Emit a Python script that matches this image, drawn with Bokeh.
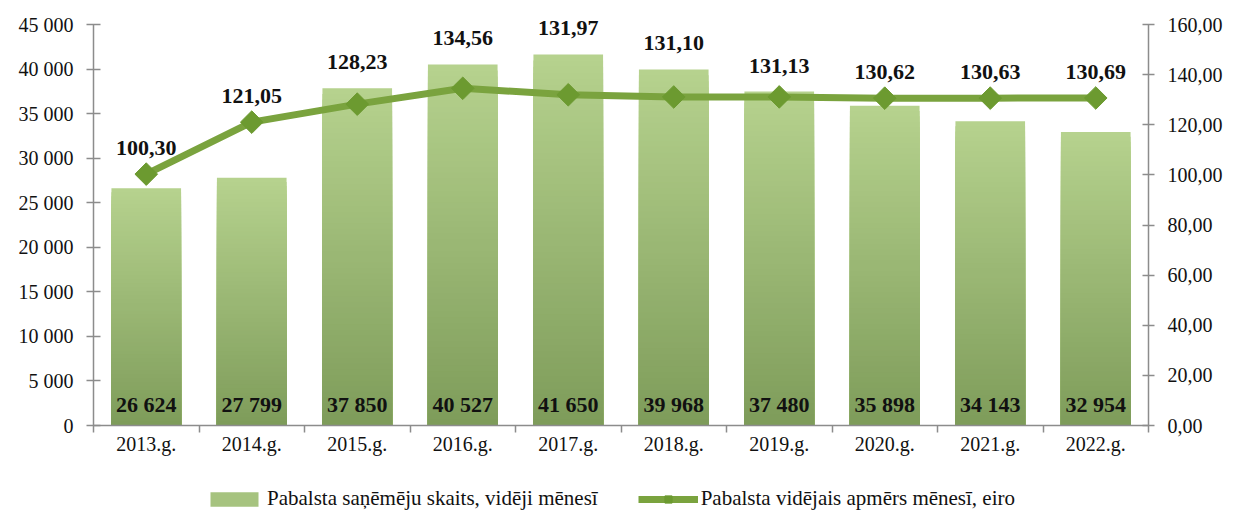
from bokeh.plotting import figure
from bokeh.layouts import column
from bokeh.models import (LinearAxis, Range1d, FixedTicker, Legend, LegendItem,
                          ColumnDataSource, CustomJSTickFormatter)
from bokeh.core.properties import value
from bokeh.embed import file_html
from bokeh.resources import INLINE

# ---------------- data ----------------
years = ["2013.g.", "2014.g.", "2015.g.", "2016.g.", "2017.g.",
         "2018.g.", "2019.g.", "2020.g.", "2021.g.", "2022.g."]
recipients = [26624, 27799, 37850, 40527, 41650, 39968, 37480, 35898, 34143, 32954]
avg_amount = [100.30, 121.05, 128.23, 134.56, 131.97, 131.10, 131.13, 130.62, 130.63, 130.69]
left_ticks = [0, 5000, 10000, 15000, 20000, 25000, 30000, 35000, 40000, 45000]
left_tick_labels = ["0", "5 000", "10 000", "15 000", "20 000", "25 000",
                    "30 000", "35 000", "40 000", "45 000"]
right_ticks = [0, 20, 40, 60, 80, 100, 120, 140, 160]
right_tick_labels = ["0,00", "20,00", "40,00", "60,00", "80,00", "100,00",
                     "120,00", "140,00", "160,00"]
legend_labels = ["Pabalsta saņēmēju skaits, vidēji mēnesī",
                 "Pabalsta vidējais apmērs mēnesī, eiro"]

LEFT_MAX = 45000
RIGHT_MAX = 160
HEADROOM = 1.05  # extra room above the axes so top labels are not clipped

FONT = "Liberation Serif"
AXIS_COLOR = "#8c8c8c"
TEXT_COLOR = "#111111"
BAR_BOTTOM = (126, 156, 90)
BAR_TOP = (182, 210, 142)
BAR_MID = "#a6c37f"
LINE_COLOR = "#7aa33e"
MARKER_COLOR = "#6c9a30"

n = len(years)
xc = [i + 0.5 for i in range(n)]

# ------------- gradient bars: overlapping layers, tallest (lightest) first -------------
N = 60
bx, bt, bc = [], [], []
for k in range(N, 0, -1):
    f = (k - 0.5) / N
    col = tuple(int(round(BAR_BOTTOM[j] + (BAR_TOP[j] - BAR_BOTTOM[j]) * f)) for j in range(3))
    for i, v in enumerate(recipients):
        bx.append(xc[i])
        bt.append(v * k / N)
        bc.append("#%02x%02x%02x" % col)
bar_src = ColumnDataSource(dict(x=bx, top=bt, color=bc))

p = figure(width=1236, height=478, x_range=Range1d(0, n),
           y_range=Range1d(0, LEFT_MAX * HEADROOM),
           output_backend="svg", toolbar_location=None,
           min_border_left=93, min_border_right=88, min_border_top=4, min_border_bottom=53)
p.extra_y_ranges = {"right": Range1d(0, RIGHT_MAX * HEADROOM)}
p.outline_line_color = None
p.xgrid.visible = False
p.ygrid.visible = False
p.background_fill_color = "white"
p.border_fill_color = "white"

bars = p.vbar(x="x", bottom=0, top="top", width=0.66, fill_color="color",
              line_color=None, source=bar_src)

line_src = ColumnDataSource(dict(x=xc, y=avg_amount))
ln = p.line("x", "y", source=line_src, y_range_name="right", line_width=7,
            line_color=LINE_COLOR)
mk = p.scatter("x", "y", source=line_src, y_range_name="right", marker="square",
               angle=0.785398, size=16, fill_color=MARKER_COLOR, line_color=MARKER_COLOR)

# bar value labels (bottom of bars)
rec_labels = [f"{v:,}".replace(",", " ") for v in recipients]
p.text(x=xc, y=[0] * n, text=rec_labels, y_offset=-21, text_align="center",
       text_baseline="middle", text_font=value(FONT), text_font_style="bold",
       text_font_size="22px", text_color=TEXT_COLOR)

# line value labels, placed above the higher of marker / bar top
amt_labels = [f"{v:.2f}".replace(".", ",") for v in avg_amount]
anchor = [max(a, r * RIGHT_MAX / LEFT_MAX) for a, r in zip(avg_amount, recipients)]
p.text(x=xc, y=anchor, text=amt_labels, y_range_name="right", y_offset=-26,
       text_align="center", text_baseline="middle", text_font=value(FONT),
       text_font_style="bold", text_font_size="22px", text_color=TEXT_COLOR)

# ---------------- axes ----------------
def style_axis(ax):
    ax.axis_line_color = AXIS_COLOR
    ax.axis_line_width = 1.5
    ax.major_tick_line_color = AXIS_COLOR
    ax.major_tick_line_width = 1.5
    ax.minor_tick_line_color = AXIS_COLOR
    ax.minor_tick_line_width = 1.5
    ax.major_label_text_font = FONT
    ax.major_label_text_font_size = "20px"
    ax.major_label_text_color = TEXT_COLOR

LOOKUP = "const i = tv.indexOf(tick); return i >= 0 ? lbls[i] : '';"

xax = p.xaxis[0]
style_axis(xax)
xax.ticker = FixedTicker(ticks=xc, minor_ticks=list(range(n + 1)))
xax.formatter = CustomJSTickFormatter(args=dict(lbls=years),
                                      code="const i = Math.floor(tick); return (i >= 0 && i < lbls.length) ? lbls[i] : '';")
xax.major_tick_out = 0
xax.major_tick_in = 0
xax.minor_tick_out = 7
xax.minor_tick_in = 0
xax.major_label_standoff = 0

yax = p.yaxis[0]
style_axis(yax)
yax.ticker = FixedTicker(ticks=left_ticks)
yax.formatter = CustomJSTickFormatter(args=dict(tv=left_ticks, lbls=left_tick_labels), code=LOOKUP)
yax.bounds = (0, LEFT_MAX)
yax.major_tick_out = 7
yax.major_tick_in = 7
yax.major_label_standoff = 13

rax = LinearAxis(y_range_name="right")
style_axis(rax)
rax.ticker = FixedTicker(ticks=right_ticks)
rax.formatter = CustomJSTickFormatter(args=dict(tv=right_ticks, lbls=right_tick_labels), code=LOOKUP)
rax.bounds = (0, RIGHT_MAX)
rax.major_tick_out = 6
rax.major_tick_in = 6
rax.major_label_standoff = 13
p.add_layout(rax, "right")

# ---------------- legend (separate strip below) ----------------
lf = figure(width=1236, height=34, x_range=Range1d(0, 1), y_range=Range1d(0, 1),
            output_backend="svg", toolbar_location=None, x_axis_type=None, y_axis_type=None,
            min_border_left=0, min_border_right=0, min_border_top=0, min_border_bottom=0)
lf.outline_line_color = None
lf.xgrid.visible = False
lf.ygrid.visible = False
hidden = ColumnDataSource(dict(x=[-10.0], y=[-10.0], top=[-10.0]))
lb = lf.vbar(x="x", top="top", width=0.5, fill_color=BAR_MID, line_color=None, source=hidden)
ll = lf.line("x", "y", line_width=7, line_color=LINE_COLOR, source=hidden)
lm = lf.scatter("x", "y", marker="square", angle=0.785398, size=10,
                fill_color=MARKER_COLOR, line_color=MARKER_COLOR, source=hidden)

legend = Legend(items=[LegendItem(label=legend_labels[0], renderers=[lb]),
                       LegendItem(label=legend_labels[1], renderers=[ll, lm])],
                orientation="horizontal", location=(111, 1))
legend.label_text_font = FONT
legend.label_text_font_size = "21px"
legend.label_text_color = TEXT_COLOR
legend.glyph_width = 60
legend.glyph_height = 18
legend.spacing = 40
legend.label_standoff = 3
legend.padding = 0
legend.margin = 0
legend.border_line_color = None
legend.background_fill_alpha = 0
lf.add_layout(legend, "center")

layout = column(p, lf, spacing=0)
open("out.html", "w").write(file_html(layout, INLINE))
